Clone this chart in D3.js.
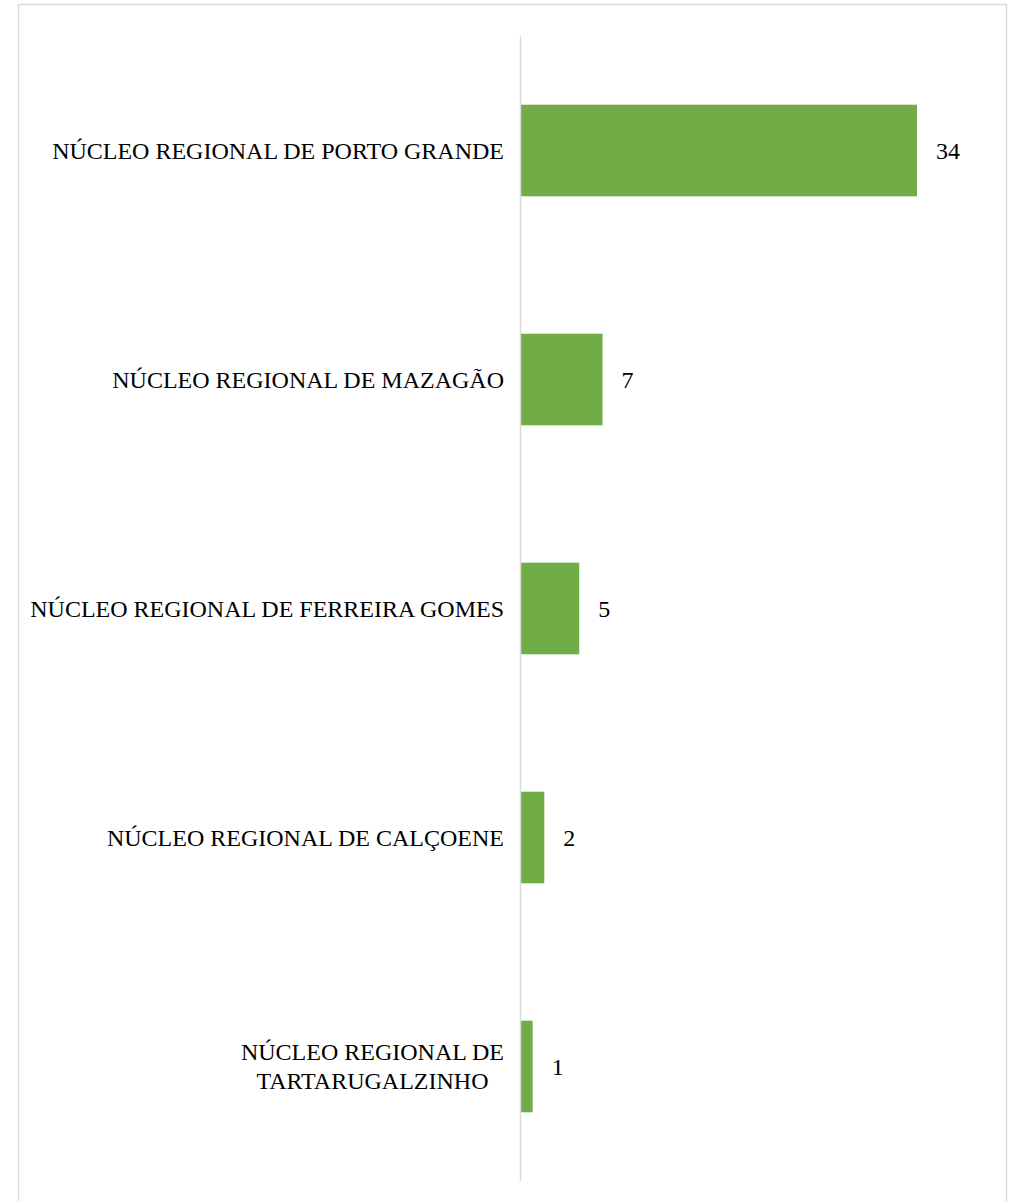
<!DOCTYPE html>
<html>
<head>
<meta charset="utf-8">
<script src="https://cdn.jsdelivr.net/npm/d3@7"></script>
<style>
  html, body { margin: 0; padding: 0; background: #fff; }
  svg { display: block; }
</style>
</head>
<body>
<svg id="chart" width="1012" height="1201"></svg>
<script>
const categories = [
  "NÚCLEO REGIONAL DE PORTO GRANDE",
  "NÚCLEO REGIONAL DE MAZAGÃO",
  "NÚCLEO REGIONAL DE FERREIRA GOMES",
  "NÚCLEO REGIONAL DE CALÇOENE",
  "NÚCLEO REGIONAL DE TARTARUGALZINHO"
];
const values = [34, 7, 5, 2, 1];

const W = 1012, H = 1201;
const svg = d3.select("#chart");
const font = "'Liberation Serif', 'Times New Roman', serif";
const fs = 24;

svg.append("rect")
  .attr("x", 18.5).attr("y", 4.5)
  .attr("width", 988).attr("height", 1210)
  .attr("fill", "#fff").attr("stroke", "#d9d9d9").attr("stroke-width", 1.5);

const x0 = 521;
const x = d3.scaleLinear().domain([0, 34]).range([x0, 917]);
const y = d3.scaleBand().domain(categories).range([36, 1181])
  .paddingInner(0.6).paddingOuter(0.3);

const g = svg.append("g");

g.selectAll("rect.bar").data(values).enter().append("rect")
  .attr("class", "bar")
  .attr("x", x(0))
  .attr("y", (d, i) => y(categories[i]))
  .attr("width", d => x(d) - x(0))
  .attr("height", y.bandwidth())
  .attr("fill", "#70AD47");

// axis line
const axis = d3.axisLeft(y).tickSize(0).tickFormat("");
const ax = g.append("g").attr("transform", `translate(${x0 - 0.5},0)`).call(axis);
ax.select(".domain").attr("stroke", "#d9d9d9").attr("stroke-width", 1.5)
  .attr("d", `M0,36V1181`);

// category labels with wrapping
const maxW = 490;
const labels = g.selectAll("text.cat").data(categories).enter().append("text")
  .attr("class", "cat")
  .attr("font-family", font).attr("font-size", fs).attr("fill", "#000")
  .attr("text-anchor", "middle");

labels.each(function(d) {
  const t = d3.select(this);
  const words = d.split(" ");
  let lines = [], cur = [];
  const probe = t.append("tspan");
  words.forEach(w => {
    const test = cur.concat(w).join(" ");
    probe.text(test);
    if (probe.node().getComputedTextLength() > maxW && cur.length) {
      lines.push(cur.join(" ")); cur = [w];
    } else cur.push(w);
  });
  lines.push(cur.join(" "));
  probe.remove();
  const widths = lines.map(l => { const s = t.append("tspan").text(l); const w = s.node().getComputedTextLength(); s.remove(); return w; });
  const blockW = d3.max(widths);
  const right = 504;
  const cx = right - blockW / 2;
  const cy = y(d) + y.bandwidth() / 2;
  const lh = 29;
  lines.forEach((l, i) => {
    t.append("tspan").attr("x", cx)
      .attr("y", cy + (i - (lines.length - 1) / 2) * lh)
      .attr("dy", "0.35em").text(l);
  });
});

// value labels
g.selectAll("text.val").data(values).enter().append("text")
  .attr("class", "val")
  .attr("x", d => x(d) + 19)
  .attr("y", (d, i) => y(categories[i]) + y.bandwidth() / 2)
  .attr("dy", "0.35em")
  .attr("font-family", font).attr("font-size", fs).attr("fill", "#000")
  .text(d => d);
</script>
</body>
</html>
